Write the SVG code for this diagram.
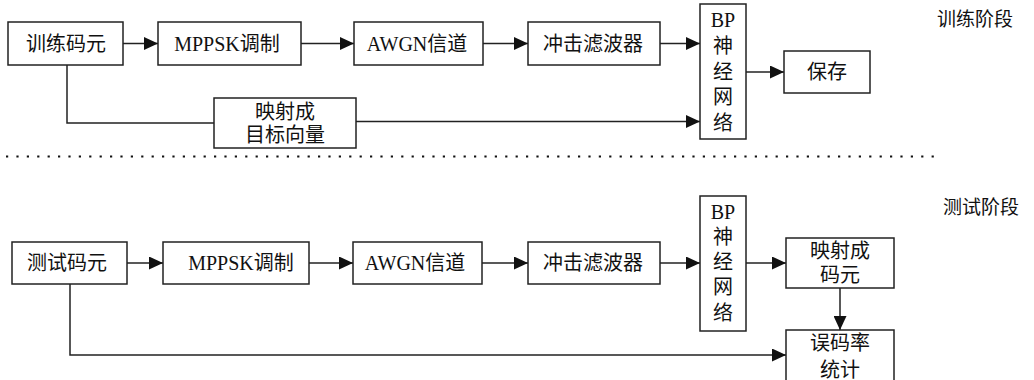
<svg xmlns="http://www.w3.org/2000/svg" width="1034" height="380" viewBox="0 0 1034 380">
<style>
.box{fill:#fff;stroke:#222;stroke-width:1.5}
.ln{fill:none;stroke:#222;stroke-width:1.5}
.t{font-family:"Liberation Serif","Noto Sans CJK SC",serif;font-size:20px;fill:#111;text-anchor:middle;dominant-baseline:central}
.lbl{font-family:"Liberation Serif","Noto Sans CJK SC",serif;font-size:19px;fill:#111;dominant-baseline:central}
.dot{stroke:#111;stroke-width:2.2;stroke-dasharray:2.2 8.2}
</style>
<defs>
<marker id="ah" markerUnits="userSpaceOnUse" markerWidth="15" markerHeight="13" refX="14" refY="6.5" orient="auto">
<path d="M0,0 L14,6.5 L0,13 Z" fill="#111"/>
</marker>
</defs>
<rect width="1034" height="380" fill="#fff"/>
<g id="connectors">
<line class="ln" x1="123" y1="43.5" x2="158" y2="43.5" marker-end="url(#ah)"/>
<line class="ln" x1="301" y1="43.5" x2="354" y2="43.5" marker-end="url(#ah)"/>
<line class="ln" x1="483" y1="43.5" x2="528" y2="43.5" marker-end="url(#ah)"/>
<line class="ln" x1="660" y1="43.5" x2="700" y2="43.5" marker-end="url(#ah)"/>
<line class="ln" x1="746" y1="72" x2="784" y2="72" marker-end="url(#ah)"/>
<polyline class="ln" points="67,65 67,123 214,123"/>
<line class="ln" x1="356" y1="121.5" x2="700" y2="121.5" marker-end="url(#ah)"/>
<line class="dot" x1="6" y1="156.5" x2="940" y2="156.5"/>
<line class="ln" x1="127" y1="263" x2="163" y2="263" marker-end="url(#ah)"/>
<line class="ln" x1="309" y1="263" x2="353" y2="263" marker-end="url(#ah)"/>
<line class="ln" x1="482" y1="263" x2="528" y2="263" marker-end="url(#ah)"/>
<line class="ln" x1="660" y1="263" x2="700" y2="263" marker-end="url(#ah)"/>
<line class="ln" x1="746" y1="263" x2="786" y2="263" marker-end="url(#ah)"/>
<line class="ln" x1="840" y1="288" x2="840" y2="330" marker-end="url(#ah)"/>
<polyline class="ln" points="70,284 70,355 786,355" marker-end="url(#ah)"/>
</g>
<g id="train-code">
<rect class="box" x="8" y="22" width="115" height="43"/>
<text class="t" x="66" y="43.5">训练码元</text>
</g>
<g id="train-mppsk">
<rect class="box" x="158" y="22" width="143" height="43"/>
<text class="t" x="227" y="43.5">MPPSK调制</text>
</g>
<g id="train-awgn">
<rect class="box" x="354" y="22" width="129" height="43"/>
<text class="t" x="417" y="43.5">AWGN信道</text>
</g>
<g id="train-filter">
<rect class="box" x="528" y="22" width="132" height="43"/>
<text class="t" x="593" y="43.5">冲击滤波器</text>
</g>
<g id="train-bp">
<rect class="box" x="700" y="4" width="46" height="135"/>
<text class="t" x="723" y="20">BP</text>
<text class="t" x="723" y="46">神</text>
<text class="t" x="723" y="72">经</text>
<text class="t" x="723" y="97">网</text>
<text class="t" x="723" y="123">络</text>
</g>
<g id="train-save">
<rect class="box" x="784" y="51" width="86" height="42"/>
<text class="t" x="827" y="72">保存</text>
</g>
<g id="train-map">
<rect class="box" x="214" y="98" width="142" height="50"/>
<text class="t" x="285" y="112">映射成</text>
<text class="t" x="285" y="135">目标向量</text>
</g>
<g id="label-train">
<text class="lbl" x="937" y="19">训练阶段</text>
</g>
<g id="test-code">
<rect class="box" x="12" y="242" width="115" height="42"/>
<text class="t" x="67" y="263">测试码元</text>
</g>
<g id="test-mppsk">
<rect class="box" x="163" y="242" width="146" height="42"/>
<text class="t" x="241" y="263">MPPSK调制</text>
</g>
<g id="test-awgn">
<rect class="box" x="353" y="242" width="129" height="42"/>
<text class="t" x="415" y="263">AWGN信道</text>
</g>
<g id="test-filter">
<rect class="box" x="528" y="242" width="132" height="42"/>
<text class="t" x="593" y="263">冲击滤波器</text>
</g>
<g id="test-bp">
<rect class="box" x="700" y="196" width="46" height="135"/>
<text class="t" x="723" y="212">BP</text>
<text class="t" x="723" y="237">神</text>
<text class="t" x="723" y="262">经</text>
<text class="t" x="723" y="287">网</text>
<text class="t" x="723" y="313">络</text>
</g>
<g id="test-map">
<rect class="box" x="786" y="238" width="108" height="50"/>
<text class="t" x="840" y="251">映射成</text>
<text class="t" x="840" y="275">码元</text>
</g>
<g id="test-ber">
<rect class="box" x="786" y="330" width="108" height="60"/>
<text class="t" x="840" y="343">误码率</text>
<text class="t" x="840" y="370">统计</text>
</g>
<g id="label-test">
<text class="lbl" x="943" y="207">测试阶段</text>
</g>
</svg>
